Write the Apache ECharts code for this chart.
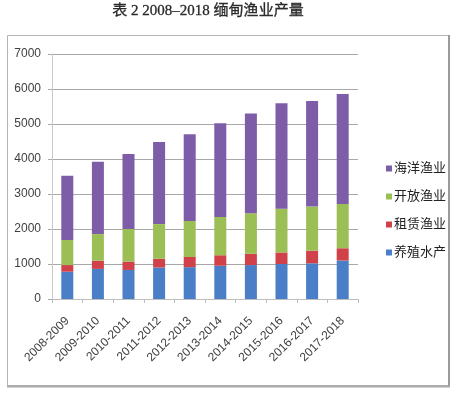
<!DOCTYPE html>
<html><head><meta charset="utf-8">
<script src="https://cdn.jsdelivr.net/npm/echarts@6/dist/echarts.min.js"></script>
<style>html,body{margin:0;padding:0;background:#fff}#c{width:455px;height:395px}</style>
</head><body><div id="c"></div>
<script>
const categories = ['2008-2009','2009-2010','2010-2011','2011-2012','2012-2013','2013-2014','2014-2015','2015-2016','2016-2017','2017-2018'];
const aquaculture = [780, 860, 830, 900, 910, 950, 970, 1000, 1020, 1100];
const leasable = [190, 235, 240, 250, 290, 300, 320, 330, 360, 350];
const openFishery = [715, 760, 930, 990, 1030, 1095, 1160, 1250, 1260, 1265];
const marine = [1840, 2065, 2140, 2345, 2475, 2675, 2850, 3010, 3020, 3140];
const yTicks = {min: 0, max: 7000, interval: 1000};
const titleText = '表 2 2008–2018 缅甸渔业产量';

const chart = echarts.init(document.getElementById('c'), null, {renderer: 'canvas'});
const font = "'Liberation Sans', 'Noto Sans CJK SC', sans-serif";
const mk = (name, data, color) => ({
  name, type: 'bar', stack: 'total', data, barWidth: 12,
  itemStyle: {color}, emphasis: {disabled: true}
});
chart.setOption({
  animation: false,
  graphic: [
    {type: 'rect', shape: {x: 7.5, y: 35.5, width: 441, height: 350}, style: {fill: 'none', stroke: '#b4b4b4', lineWidth: 1}},
    {type: 'line', shape: {x1: 449, y1: 35, x2: 449, y2: 387}, style: {stroke: '#9a9a9a', lineWidth: 2}},
    {type: 'line', shape: {x1: 7, y1: 386.5, x2: 450, y2: 386.5}, style: {stroke: '#a8a8a8', lineWidth: 2}},
    {type: 'text', x: 208, y: 11, style: {text: titleText, font: "15px 'Liberation Serif', 'Noto Sans CJK SC', serif", fill: '#2a2a2a', textAlign: 'center', textVerticalAlign: 'middle', stroke: '#2a2a2a', lineWidth: 0.3}}
  ],
  grid: {left: 52, right: 97, top: 54, bottom: 96},
  legend: {
    orient: 'vertical', left: 381, top: 157, itemWidth: 6, itemHeight: 6, itemGap: 15, icon: 'rect',
    data: ['海洋渔业', '开放渔业', '租赁渔业', '养殖水产'],
    textStyle: {fontSize: 13, color: '#222', fontFamily: font, padding: [0, 0, 0, -3]}
  },
  xAxis: {
    type: 'category', data: categories,
    axisLine: {lineStyle: {color: '#bdbdbd', width: 1}},
    axisTick: {show: true, length: 4, lineStyle: {color: '#bdbdbd'}},
    axisLabel: {rotate: 45, fontSize: 12, color: '#404040', fontFamily: font, margin: 20, interval: 0}
  },
  yAxis: {
    type: 'value', min: yTicks.min, max: yTicks.max, interval: yTicks.interval,
    axisLine: {show: true, lineStyle: {color: '#c8c8c8'}},
    axisTick: {show: true, length: 4, lineStyle: {color: '#a8a8a8'}},
    splitLine: {lineStyle: {color: '#a8a8a8'}},
    axisLabel: {fontSize: 12, color: '#404040', fontFamily: font, margin: 11, formatter: v => String(v)}
  },
  series: [
    mk('养殖水产', aquaculture, '#4a7fc8'),
    mk('租赁渔业', leasable, '#d0414a'),
    mk('开放渔业', openFishery, '#9bbe55'),
    mk('海洋渔业', marine, '#7d5ca8')
  ]
});
</script></body></html>
